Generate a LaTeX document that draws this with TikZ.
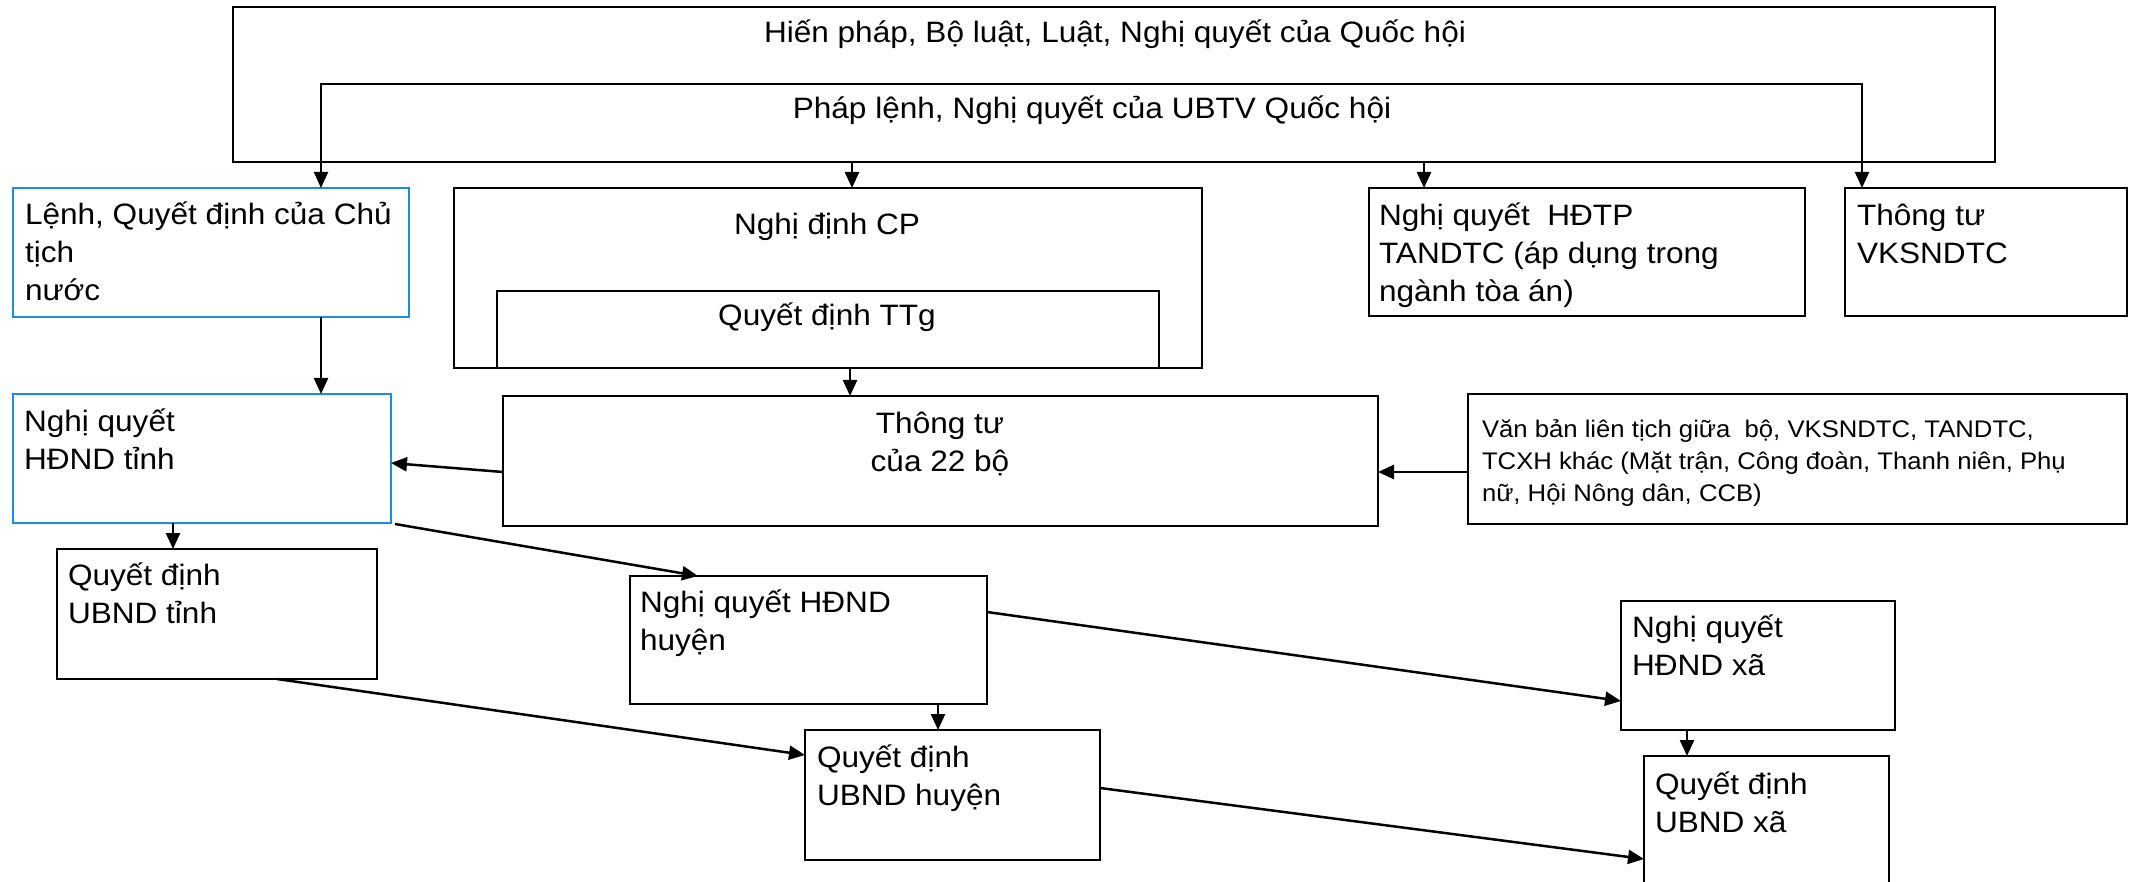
\documentclass[tikz,border=0pt]{standalone}
\usepackage{fontspec}
\setmainfont{Liberation Sans}[FakeStretch=1.07]
\usetikzlibrary{arrows.meta,calc}
\definecolor{boxblue}{RGB}{28,142,220}
\begin{document}
\begin{tikzpicture}[x=1pt,y=-1pt,
  box/.style={draw=black, line width=2.5pt, inner sep=0pt, outer sep=0pt, anchor=north west},
  bluebox/.style={box, draw=boxblue, line width=2pt},
  txt/.style={inner sep=0pt, outer sep=0pt, font=\fontsize{29.5}{38}\selectfont},
  smalltxt/.style={inner sep=0pt, outer sep=0pt, font=\fontsize{24}{32}\selectfont},
  arr/.style={line width=2.5pt, -{Triangle[length=16pt,width=14pt]}},
  tip/.style={Triangle[length=16pt,width=14pt]}
]
\clip (0,0) rectangle (2136,882);
\fill[white] (0,0) rectangle (2136,882);

% boxes
\node[box, minimum width=1762pt, minimum height=155pt] (outer) at (233,7) {};
\node[bluebox, minimum width=396pt, minimum height=129pt] (lenh) at (13,188) {};
\node[box, minimum width=748pt, minimum height=180pt] (ndcp) at (454,188) {};
\node[box, minimum width=662pt, minimum height=77pt] (qdttg) at (497,291) {};
\node[box, minimum width=436pt, minimum height=128pt] (hdtp) at (1369,188) {};
\node[box, minimum width=282pt, minimum height=128pt] (vks) at (1845,188) {};
\node[bluebox, minimum width=378pt, minimum height=129pt] (hdt) at (13,394) {};
\node[box, minimum width=875pt, minimum height=130pt] (tt22) at (503,396) {};
\node[box, minimum width=659pt, minimum height=130pt] (vblt) at (1468,394) {};
\node[box, minimum width=320pt, minimum height=130pt] (qdt) at (57,549) {};
\node[box, minimum width=357pt, minimum height=128pt] (hdh) at (630,576) {};
\node[box, minimum width=295pt, minimum height=130pt] (qdh) at (805,730) {};
\node[box, minimum width=274pt, minimum height=129pt] (hdx) at (1621,601) {};
\node[box, minimum width=245pt, minimum height=200pt] (qdx) at (1644,756) {};

% texts
\node[txt, anchor=base] (t_hp) at (1115,43) {Hiến pháp, Bộ luật, Luật, Nghị quyết của Quốc hội};
\node[txt, anchor=base] (t_pl) at (1092,119) {Pháp lệnh, Nghị quyết của UBTV Quốc hội};
\node[txt, anchor=base] (t_ndcp) at (827,235) {Nghị định CP};
\node[txt, anchor=base] (t_qdttg) at (827,326) {Quyết định TTg};
\node[txt, anchor=base west] (t_lenh) at (25,225) {\begin{tabular}[t]{@{}l@{}}Lệnh, Quyết định của Chủ\\tịch\\nước\end{tabular}};
\node[txt, anchor=base west] (t_hdtp) at (1379,226) {\begin{tabular}[t]{@{}l@{}}Nghị quyết\ \ HĐTP\\TANDTC (áp dụng trong\\ngành tòa án)\end{tabular}};
\node[txt, anchor=base west] (t_vks) at (1857,226) {\begin{tabular}[t]{@{}l@{}}Thông tư\\VKSNDTC\end{tabular}};
\node[txt, anchor=base west] (t_hdt) at (24,431) {\begin{tabular}[t]{@{}l@{}}Nghị quyết\\HĐND tỉnh\end{tabular}};
\node[txt, anchor=base] (t_tt22) at (940,433) {\begin{tabular}[t]{@{}c@{}}Thông tư\\của 22 bộ\end{tabular}};
\node[smalltxt, anchor=base west] (t_vblt) at (1482,437) {\begin{tabular}[t]{@{}l@{}}Văn bản liên tịch giữa\ \ bộ, VKSNDTC, TANDTC,\\TCXH khác (Mặt trận, Công đoàn, Thanh niên, Phụ\\nữ, Hội Nông dân, CCB)\end{tabular}};
\node[txt, anchor=base west] (t_qdt) at (68,585) {\begin{tabular}[t]{@{}l@{}}Quyết định\\UBND tỉnh\end{tabular}};
\node[txt, anchor=base west] (t_hdh) at (640,612) {\begin{tabular}[t]{@{}l@{}}Nghị quyết HĐND\\huyện\end{tabular}};
\node[txt, anchor=base west] (t_qdh) at (817,767) {\begin{tabular}[t]{@{}l@{}}Quyết định\\UBND huyện\end{tabular}};
\node[txt, anchor=base west] (t_hdx) at (1632,637) {\begin{tabular}[t]{@{}l@{}}Nghị quyết\\HĐND xã\end{tabular}};
\node[txt, anchor=base west] (t_qdx) at (1655,794) {\begin{tabular}[t]{@{}l@{}}Quyết định\\UBND xã\end{tabular}};

% Pháp lệnh bracket with arrows at both ends
\coordinate (plL) at (321,84);
\coordinate (plR) at (1862,84);
\draw[line width=2pt, {Triangle[length=16pt,width=14pt]}-{Triangle[length=16pt,width=14pt]}]
  (lenh.north -| plL) -- (plL) -- (plR) -- (vks.north -| plR);

% connectors
\draw[arr] ($(outer.south west)+(619,0)$) -- ($(ndcp.north west)+(398,0)$);
\draw[arr] ($(outer.south west)+(1191,0)$) -- ($(hdtp.north west)+(55,0)$);
\draw[arr] ($(lenh.south west)+(308,0)$) -- ($(hdt.north west)+(308,0)$);
\draw[arr] ($(ndcp.south west)+(396,0)$) -- ($(tt22.north west)+(347,0)$);
\draw[arr] ($(tt22.north west)+(0,76)$) -- ($(hdt.north east)+(0,69)$);
\draw[arr] ($(vblt.north west)+(0,78)$) -- ($(tt22.north east)+(0,76)$);
\draw[arr] ($(hdt.south west)+(160,0)$) -- ($(qdt.north west)+(116,0)$);
\draw[arr] ($(hdt.south east)+(4,1)$) -- ($(hdh.north west)+(68,0)$);
\draw[arr] ($(hdh.south west)+(308,0)$) -- ($(qdh.north west)+(133,0)$);
\draw[arr] ($(qdt.south west)+(220,0)$) -- ($(qdh.north west)+(0,25)$);
\draw[arr] ($(hdh.north east)+(0,36)$) -- ($(hdx.north west)+(0,100)$);
\draw[arr] ($(hdx.south west)+(66,0)$) -- ($(qdx.north west)+(43,0)$);
\draw[arr] ($(qdh.north east)+(0,58)$) -- ($(qdx.north west)+(0,103)$);
\end{tikzpicture}
\end{document}
